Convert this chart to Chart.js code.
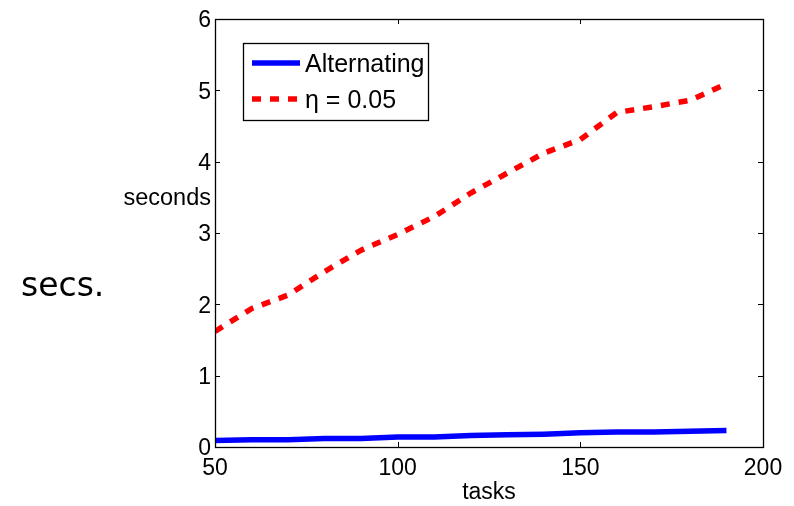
<!DOCTYPE html>
<html><head><meta charset="utf-8">
<script src="https://cdn.jsdelivr.net/npm/chart.js@4/dist/chart.umd.min.js"></script>
<style>html,body{margin:0;padding:0;background:#fff;overflow:hidden} canvas{display:block}</style>
</head><body>
<canvas id="c" width="794" height="506" style="width:794px;height:506px"></canvas>
<script>
const tasks = [50,60,70,80,90,100,110,120,130,140,150,160,170,180,190];
const alternating = [0.09,0.10,0.10,0.12,0.12,0.14,0.14,0.16,0.17,0.18,0.20,0.21,0.21,0.22,0.23];
const eta005 = [1.62,1.94,2.13,2.46,2.76,2.98,3.23,3.56,3.84,4.12,4.31,4.69,4.77,4.86,5.09];
const xTicks = [50,100,150,200];
const yTicks = [0,1,2,3,4,5,6];
const seriesNames = ['Alternating','η = 0.05'];
const xTitle = 'tasks';
const yTitle = 'seconds';
const sideNote = 'secs.';

const FONT = "'Liberation Sans', Arial, Helvetica, sans-serif";

const framePlugin = {
  id: 'frame',
  afterDraw(chart) {
    const ctx = chart.ctx;
    const a = chart.chartArea;
    const xs = chart.scales.x, ys = chart.scales.y;
    ctx.save();
    // box
    ctx.strokeStyle = '#000';
    ctx.lineWidth = 1.3;
    ctx.strokeRect(Math.round(a.left)+0.5, Math.round(a.top)+0.5, Math.round(a.right-a.left), Math.round(a.bottom-a.top));
    // inward ticks
    ctx.lineWidth = 1;
    const tl = 5;
    xTicks.forEach(v => {
      const px = Math.round(xs.getPixelForValue(v)) + 0.5;
      ctx.beginPath();
      ctx.moveTo(px, a.bottom); ctx.lineTo(px, a.bottom - tl);
      ctx.moveTo(px, a.top); ctx.lineTo(px, a.top + tl);
      ctx.stroke();
    });
    yTicks.forEach(v => {
      const py = Math.round(ys.getPixelForValue(v)) + 0.5;
      ctx.beginPath();
      ctx.moveTo(a.left, py); ctx.lineTo(a.left + tl, py);
      ctx.moveTo(a.right, py); ctx.lineTo(a.right - tl, py);
      ctx.stroke();
    });
    // titles
    ctx.fillStyle = '#000';
    ctx.textBaseline = 'alphabetic';
    ctx.font = '23px ' + FONT;
    ctx.textAlign = 'center';
    ctx.fillText(xTitle, (a.left + a.right) / 2, 499);
    ctx.font = '23.5px ' + FONT;
    ctx.textAlign = 'right';
    ctx.fillText(yTitle, 211, 205);
    ctx.font = "33px 'DejaVu Sans', Verdana, sans-serif";
    ctx.textAlign = 'left';
    ctx.fillText(sideNote, 21, 296);
    // legend
    const lx = 243, ly = 43, lw = 185, lh = 77;
    ctx.fillStyle = '#fff';
    ctx.fillRect(lx, ly, lw, lh);
    ctx.strokeStyle = '#000';
    ctx.lineWidth = 1.3;
    ctx.strokeRect(lx + 0.5, ly + 0.5, lw, lh);
    const rows = [63, 99];
    chart.data.datasets.forEach((ds, i) => {
      ctx.beginPath();
      ctx.strokeStyle = ds.borderColor;
      ctx.lineWidth = ds.borderWidth;
      ctx.lineCap = 'butt';
      ctx.setLineDash(ds.borderDash || []);
      ctx.moveTo(252, rows[i]);
      ctx.lineTo(300, rows[i]);
      ctx.stroke();
      ctx.setLineDash([]);
      ctx.fillStyle = '#000';
      ctx.font = '25px ' + FONT;
      ctx.textAlign = 'left';
      ctx.textBaseline = 'alphabetic';
      ctx.fillText(ds.label, 305, rows[i] + 9);
    });
    ctx.restore();
  }
};

new Chart(document.getElementById('c'), {
  type: 'line',
  data: {
    datasets: [
      {
        label: seriesNames[0],
        data: tasks.map((t, i) => ({x: t, y: alternating[i]})),
        borderColor: '#0000ff',
        borderWidth: 5.5,
        pointRadius: 0,
        tension: 0,
        fill: false
      },
      {
        label: seriesNames[1],
        data: tasks.map((t, i) => ({x: t, y: eta005[i]})),
        borderColor: '#ff0000',
        borderWidth: 5.5,
        borderDash: [9, 9],
        pointRadius: 0,
        tension: 0,
        fill: false
      }
    ]
  },
  options: {
    responsive: false,
    animation: false,
    devicePixelRatio: 1,
    layout: { padding: { top: 19, right: 31, left: 0, bottom: 0 } },
    plugins: { legend: { display: false }, tooltip: { enabled: false } },
    scales: {
      x: {
        type: 'linear',
        min: 50, max: 200,
        afterBuildTicks: s => { s.ticks = xTicks.map(v => ({value: v})); },
        afterFit: s => { s.height = 59; },
        grid: { display: false, drawTicks: false },
        border: { display: false },
        ticks: { color: '#000', font: { size: 23, family: FONT }, padding: 8, maxRotation: 0 }
      },
      y: {
        type: 'linear',
        min: 0, max: 6,
        afterBuildTicks: s => { s.ticks = yTicks.map(v => ({value: v})); },
        afterFit: s => { s.width = 215; },
        grid: { display: false, drawTicks: false },
        border: { display: false },
        ticks: { color: '#000', font: { size: 23, family: FONT }, padding: 4, labelOffset: 2 }
      }
    }
  },
  plugins: [framePlugin]
});
</script>
</body></html>
